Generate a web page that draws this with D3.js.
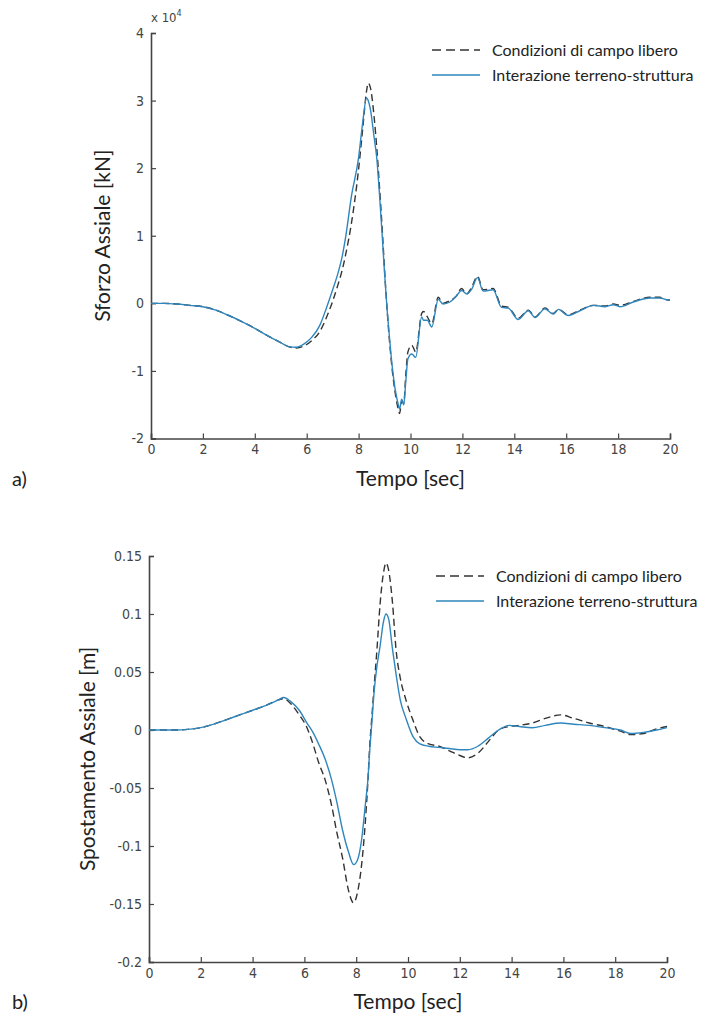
<!DOCTYPE html>
<html lang="en">
<head>
<meta charset="utf-8">
<title>Sforzo e spostamento assiale</title>
<script src="https://d3js.org/d3.v7.min.js"></script>
<style>
  body { margin: 0; background: #fff; }
  .tick text { font-family: "DejaVu Sans", sans-serif; font-stretch: condensed; font-size: 14px; fill: #444; }
  .label { font-family: "Lato", "Noto Sans", sans-serif; fill: #222; }
</style>
</head>
<body>
<script>
// --- panel a) : axial force, units of 1e4 kN
var timeA = [0,0.5,1,1.5,2,2.5,3,3.5,4,4.5,5,5.3,5.6,5.9,6.2,6.5,6.75,7,7.2,7.36,7.5,7.73,7.99,8.15,8.31,8.37,8.45,8.6,8.7,8.8,8.91,9,9.1,9.2,9.3,9.4,9.5,9.58,9.66,9.74,9.82,9.9,10.05,10.2,10.43,10.5,10.65,10.82,11.07,11.25,11.52,11.75,11.97,12.17,12.36,12.58,12.8,13.18,13.51,13.77,14.15,14.54,14.8,15.18,15.5,15.7,16.08,16.53,17.05,17.5,17.82,18.07,18.59,19.23,19.6,19.92,20];
var forceFree = [0,0,-0.01,-0.03,-0.05,-0.1,-0.18,-0.27,-0.37,-0.48,-0.58,-0.64,-0.66,-0.63,-0.55,-0.42,-0.22,0.03,0.27,0.48,0.72,1.2,1.95,2.55,3.15,3.26,3.2,2.75,2.3,1.75,1.1,0.5,-0.1,-0.6,-1.0,-1.3,-1.52,-1.63,-1.45,-1.48,-1.05,-0.72,-0.62,-0.72,-0.15,-0.12,-0.2,-0.3,0.09,0.0,0.04,0.1,0.22,0.14,0.24,0.4,0.2,0.22,-0.04,-0.06,-0.22,-0.1,-0.2,-0.07,-0.15,-0.09,-0.17,-0.1,-0.03,-0.04,-0.01,-0.03,0.03,0.09,0.09,0.05,0.05];
var forceInt = [0,0,-0.01,-0.03,-0.05,-0.1,-0.18,-0.27,-0.37,-0.48,-0.58,-0.64,-0.65,-0.6,-0.5,-0.33,-0.08,0.2,0.44,0.68,0.98,1.6,2.13,2.65,3.04,3.0,2.88,2.45,2.15,1.64,1.0,0.45,-0.1,-0.55,-0.95,-1.25,-1.45,-1.56,-1.42,-1.5,-1.15,-0.82,-0.75,-0.8,-0.2,-0.25,-0.25,-0.35,0.06,-0.01,0.02,0.1,0.19,0.14,0.21,0.38,0.18,0.2,-0.06,-0.07,-0.24,-0.11,-0.21,-0.08,-0.16,-0.09,-0.18,-0.11,-0.03,-0.05,-0.02,-0.05,0.02,0.08,0.08,0.05,0.05];
var ticksYA = [-2,-1,0,1,2,3,4];

// --- panel b) : axial displacement, m
var timeB = [0,1,1.5,2,2.5,3,3.5,4,4.5,5,5.2,5.5,5.8,6.1,6.33,6.55,6.8,7.05,7.25,7.47,7.7,7.9,8.05,8.2,8.35,8.45,8.53,8.6,8.7,8.8,8.92,9.05,9.15,9.25,9.4,9.54,9.7,9.92,10.2,10.46,10.8,11.2,11.6,12,12.3,12.7,13.1,13.5,13.9,14.3,14.8,15.3,15.9,16.4,17,17.6,18.2,18.6,19.1,19.6,20];
var dispFree = [0,0,0.0005,0.002,0.005,0.009,0.013,0.017,0.021,0.026,0.027,0.022,0.013,0.002,-0.012,-0.028,-0.043,-0.065,-0.088,-0.11,-0.138,-0.149,-0.14,-0.118,-0.08,-0.045,-0.011,0.01,0.04,0.069,0.108,0.135,0.144,0.138,0.11,0.069,0.045,0.026,0.008,-0.006,-0.012,-0.014,-0.018,-0.022,-0.024,-0.02,-0.01,0,0.003,0.004,0.006,0.01,0.013,0.01,0.006,0.003,-0.001,-0.004,-0.003,0.001,0.003];
var dispInt = [0,0,0.0005,0.002,0.005,0.009,0.013,0.017,0.021,0.026,0.028,0.024,0.017,0.006,-0.002,-0.012,-0.025,-0.043,-0.062,-0.086,-0.105,-0.116,-0.112,-0.096,-0.065,-0.043,-0.015,0.005,0.035,0.055,0.072,0.093,0.1,0.096,0.07,0.048,0.026,0.01,-0.006,-0.012,-0.014,-0.015,-0.016,-0.017,-0.017,-0.014,-0.007,0,0.004,0.003,0.002,0.004,0.006,0.005,0.004,0.002,0,-0.003,-0.002,0,0.002];
var ticksYB = [-0.2,-0.15,-0.1,-0.05,0,0.05,0.1,0.15];
var tickLabelsYB = ["-0.2","-0.15","-0.1","-0.05","0","0.05","0.1","0.15"];

var ticksX = [0,2,4,6,8,10,12,14,16,18,20];
var seriesNames = ["Condizioni di campo libero", "Interazione terreno-struttura"];
var blue = "#2f86bd";

var svg = d3.select("body").append("svg")
    .attr("width", 712)
    .attr("height", 1019);

function drawPanel(p) {
  var x = d3.scaleLinear().domain([0, 20]).range([p.left, p.right]);
  var y = d3.scaleLinear().domain(p.yDomain).range([p.bottom, p.top]);
  var g = svg.append("g");

  // axes: only left and bottom, ticks pointing inward
  var xAxis = d3.axisBottom(x).tickValues(ticksX).tickSize(-5).tickPadding(6);
  g.append("g")
    .attr("transform", "translate(0," + p.bottom + ")")
    .call(xAxis);

  var yAxis = d3.axisLeft(y).tickValues(p.yTicks).tickSize(-5).tickPadding(7)
    .tickFormat(function(d, i) { return p.yLabels[i]; });
  g.append("g")
    .attr("transform", "translate(" + p.left + ",0)")
    .call(yAxis);

  g.selectAll(".domain").attr("stroke", "#444").attr("stroke-width", 1.6);
  g.selectAll(".tick line").attr("stroke", "#444").attr("stroke-width", 1.2);

  var line = d3.line()
    .x(function(d) { return x(d[0]); })
    .y(function(d) { return y(d[1]); })
    .curve(d3.curveMonotoneX);

  g.append("path")
    .datum(d3.zip(p.time, p.free))
    .attr("fill", "none")
    .attr("stroke", "#333")
    .attr("stroke-width", 1.4)
    .attr("stroke-dasharray", "7,4")
    .attr("d", line);

  g.append("path")
    .datum(d3.zip(p.time, p.inter))
    .attr("fill", "none")
    .attr("stroke", blue)
    .attr("stroke-width", 1.4)
    .attr("d", line);

  // legend
  var leg = g.append("g").attr("transform", "translate(" + p.legX + "," + p.legY + ")");
  leg.append("line").attr("x1", 0).attr("x2", 48).attr("y1", 0).attr("y2", 0)
    .attr("stroke", "#333").attr("stroke-width", 1.4).attr("stroke-dasharray", "9,5");
  leg.append("line").attr("x1", 0).attr("x2", 48).attr("y1", 25).attr("y2", 25)
    .attr("stroke", blue).attr("stroke-width", 1.4);
  leg.selectAll("text.leg")
    .data(seriesNames)
    .enter().append("text")
    .attr("class", "label leg")
    .attr("x", 60)
    .attr("y", function(d, i) { return i * 25 + 6; })
    .style("font-size", "16px")
    .text(function(d) { return d; });

  // axis titles
  g.append("text")
    .attr("class", "label")
    .attr("x", (p.left + p.right) / 2)
    .attr("y", p.bottom + 47)
    .attr("text-anchor", "middle")
    .style("font-size", "21px")
    .text("Tempo [sec]");

  g.append("text")
    .attr("class", "label")
    .attr("transform", "translate(" + p.yTitleX + "," + ((p.top + p.bottom) / 2) + ") rotate(-90)")
    .attr("text-anchor", "middle")
    .style("font-size", "21px")
    .text(p.yTitle);

  g.append("text")
    .attr("class", "label")
    .attr("x", 12)
    .attr("y", p.bottom + 47)
    .style("font-size", "20px")
    .text(p.tag);

  return g;
}

var gA = drawPanel({
  left: 151, right: 670, top: 33, bottom: 438.5,
  yDomain: [-2, 4], yTicks: ticksYA, yLabels: ticksYA.map(String),
  time: timeA, free: forceFree, inter: forceInt,
  legX: 432, legY: 50, yTitleX: 110,
  yTitle: "Sforzo Assiale [kN]", tag: "a)"
});

// exponent marker
var expo = gA.append("text")
  .attr("x", 151)
  .attr("y", 22)
  .style("font-family", "'DejaVu Sans', sans-serif")
  .style("font-stretch", "condensed")
  .style("font-size", "13px")
  .attr("fill", "#444");
expo.append("tspan").text("x 10");
expo.append("tspan").attr("dy", -6).style("font-size", "9px").text("4");

drawPanel({
  left: 149, right: 667, top: 556, bottom: 962,
  yDomain: [-0.2, 0.15], yTicks: ticksYB, yLabels: tickLabelsYB,
  time: timeB, free: dispFree, inter: dispInt,
  legX: 436, legY: 576, yTitleX: 95,
  yTitle: "Spostamento Assiale [m]", tag: "b)"
});
</script>
</body>
</html>
